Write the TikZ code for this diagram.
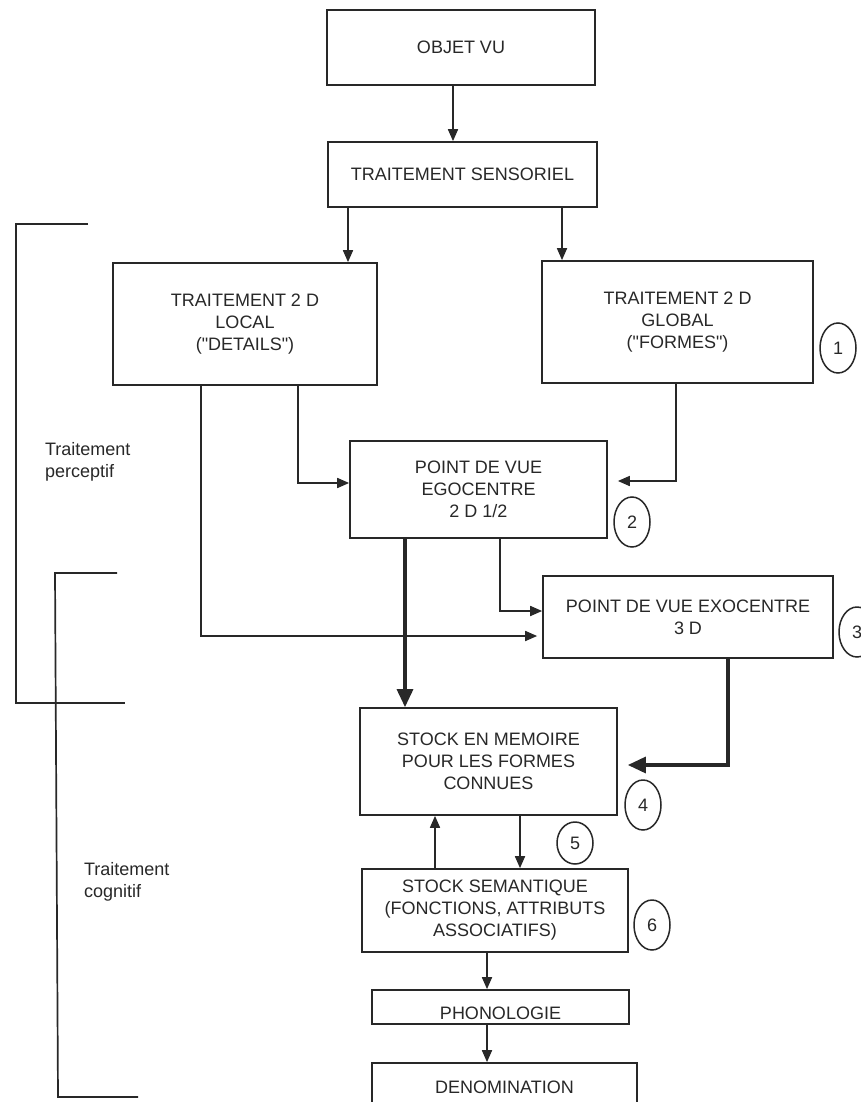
\documentclass[tikz,border=0pt]{standalone}
\usepackage{fontspec}
\newfontfamily\traceur{Liberation Sans}
\usetikzlibrary{arrows.meta,shapes.geometric}
\definecolor{encre}{RGB}{40,40,40}

\begin{document}
\begin{tikzpicture}[x=0.5pt,y=-0.5pt,font=\traceur\fontsize{9}{11}\selectfont,
  boite/.style={draw=encre,line width=0.85pt,align=center,inner sep=0pt,text=encre},
  num/.style={draw=encre,ellipse,line width=0.75pt,minimum width=18pt,minimum height=25pt,inner sep=0pt,text=encre},
  fl/.style={draw=encre,line width=0.85pt,-{Triangle[length=6pt,width=5pt]}},
  flg/.style={draw=encre,line width=1.6pt,-{Triangle[length=9pt,width=8pt]}},
  crochet/.style={draw=encre,line width=0.85pt}]
\useasboundingbox (0,0) rectangle (861,1102);
\clip (0,0) rectangle (861,1102);
\fill[white] (0,0) rectangle (861,1102);

% boites
\node[boite,minimum width=134pt,minimum height=37.5pt] (objet) at (461,47.5) {OBJET VU};
\node[boite,minimum width=134.5pt,minimum height=32.5pt] (sensoriel) at (462.5,174.5) {TRAITEMENT SENSORIEL};
\node[boite,minimum width=132pt,minimum height=61pt] (local) at (245,324) {TRAITEMENT 2 D\\LOCAL\\("DETAILS")};
\node[boite,minimum width=135.5pt,minimum height=61pt] (global) at (677.5,322) {TRAITEMENT 2 D\\GLOBAL\\("FORMES")};
\node[boite,minimum width=128.5pt,minimum height=48.5pt] (ego) at (478.5,489.5) {POINT DE VUE\\EGOCENTRE\\2 D 1/2};
\node[boite,minimum width=145pt,minimum height=41pt] (exo) at (688,617) {POINT DE VUE EXOCENTRE\\3 D};
\node[boite,minimum width=128.5pt,minimum height=53.5pt] (stock) at (488.5,761.5) {STOCK EN MEMOIRE\\POUR LES FORMES\\CONNUES};
\node[boite,minimum width=133pt,minimum height=41.5pt] (semantique) at (495,910.5) {STOCK SEMANTIQUE\\(FONCTIONS, ATTRIBUTS\\ASSOCIATIFS)};
\node[boite,minimum width=128.5pt,minimum height=17pt] (phono) at (500.5,1007) {};
\node[text=encre] (phonotxt) at (500.5,1013) {PHONOLOGIE};
\node[boite,minimum width=132.5pt,minimum height=24pt] (denom) at (504.5,1087) {DENOMINATION};

% numeros
\node[num] (n1) at (838,348) {1};
\node[num] (n2) at (632,522) {2};
\node[num] (n3) at (857,632) {3};
\node[num] (n4) at (643,805) {4};
\node[num,minimum height=21pt] (n5) at (575,843) {5};
\node[num] (n6) at (652,925) {6};

% fleches
\draw[fl] (objet.south -| 453,0) -- (sensoriel.north -| 453,0);
\draw[fl] (sensoriel.south -| 348,0) -- (local.north -| 348,0);
\draw[fl] (sensoriel.south -| 562,0) -- (global.north -| 562,0);
\draw[fl] (local.south -| 298,0) |- ([yshift=3.25pt]ego.west);
\draw[fl,shorten >=5pt] (global.south -| 676,0) |- ([yshift=4.25pt]ego.east);
\draw[fl,shorten >=2.5pt] (local.south -| 201,0) |- ([yshift=-9.5pt]exo.west);
\draw[fl] (ego.south -| 500,0) |- ([yshift=3pt]exo.west);
\draw[flg] (ego.south -| 405,0) -- (stock.north -| 405,0);
\draw[flg,shorten >=5pt] (exo.south -| 728,0) |- ([yshift=-1.75pt]stock.east);
\draw[fl] (semantique.north -| 435,0) -- (stock.south -| 435,0);
\draw[fl] (stock.south -| 520,0) -- (semantique.north -| 520,0);
\draw[fl] (semantique.south -| 487,0) -- (phono.north -| 487,0);
\draw[fl] (phono.south -| 487,0) -- (denom.north -| 487,0);

% crochets
\draw[crochet] (88,224) -- (16,224) -- (16,703) -- (125,703);
\draw[crochet] (117,573) -- (55,573) -- (58,1097) -- (138,1097);
\node[anchor=west,align=left,text=encre] (perceptif) at (38,462) {Traitement\\perceptif};
\node[anchor=west,align=left,text=encre] (cognitif) at (77,882) {Traitement\\cognitif};

\end{tikzpicture}
\end{document}
